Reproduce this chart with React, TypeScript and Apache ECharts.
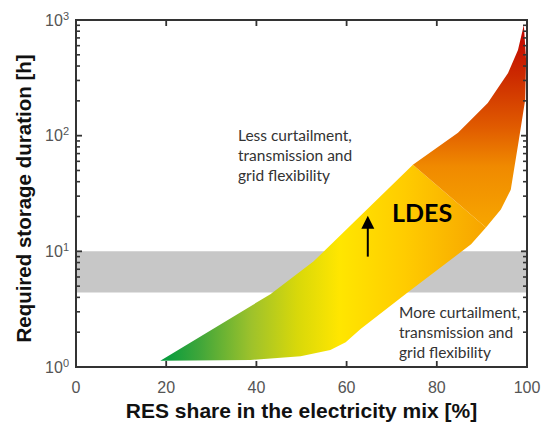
import React, { useEffect, useRef } from "react";
import * as echarts from "echarts";

// Axis ticks
const xInnerTicks = [20, 40, 60, 80];
const yMajorInner = [10, 100];
const yMinorTicks = [2, 3, 4, 5, 6, 7, 8, 9, 20, 30, 40, 50, 60, 70, 80, 90, 200, 300, 400, 500, 600, 700, 800, 900];
const xRange = [0, 100];
const yRange = [1, 1000];

// Lower (green -> yellow -> orange) part of the LDES region: [RES share %, hours]
const lowerX = [18.7, 43.1, 52.7, 74.7, 90.9, 87.6, 73.6, 63.1, 59.8, 56.4, 49.8, 38.7];
const lowerY = [1.13, 4.26, 8.2, 56, 16.1, 11.5, 4.43, 2.13, 1.64, 1.4, 1.24, 1.15];

// Upper (orange -> red) part of the LDES region
const upperX = [74.7, 84.7, 91.3, 95.8, 98.0, 99.3, 99.8, 99.6, 98.2, 96.4, 94.2, 90.9];
const upperY = [56, 106, 192, 349, 551, 906, 452, 204, 92, 34, 23, 16.1];

// Grey band of typical storage duration
const bandRange = [4.4, 10];

// Arrow
const arrowX = [64.7, 64.7];
const arrowY = [9.0, 20.3];

export default function App() {
  const ref = useRef<HTMLDivElement>(null);

  useEffect(() => {
    document.body.style.margin = "0";
    const chart = echarts.init(ref.current!, null, { renderer: "svg" });

    const polyRender = (xs: number[], ys: number[], fill: any) => (params: any, api: any) => {
      const pts = xs.map((x, i) => api.coord([x, ys[i]]));
      return { type: "polygon", shape: { points: pts }, style: { fill } };
    };

    const lowerFill = new echarts.graphic.LinearGradient(0, 0, 1, 0, [
      { offset: 0, color: "#009B3E" },
      { offset: 0.12, color: "#3FA63A" },
      { offset: 0.28, color: "#9EC22B" },
      { offset: 0.42, color: "#D8D80A" },
      { offset: 0.55, color: "#FFE600" },
      { offset: 0.75, color: "#FFCC00" },
      { offset: 1, color: "#F7A400" },
    ]);
    const upperFill = new echarts.graphic.LinearGradient(0, 0, 0, 1, [
      { offset: 0, color: "#C00000" },
      { offset: 0.25, color: "#CC2A00" },
      { offset: 0.5, color: "#E05A00" },
      { offset: 0.7, color: "#F08A00" },
      { offset: 1, color: "#F7A600" },
    ]);

    const frameColor = "#333333";

    // Frame and ticks drawn as filled rectangles through the axes' scales
    const frameRender = (params: any, api: any) => {
      const bl = api.coord([xRange[0], yRange[0]]);
      const tr = api.coord([xRange[1], yRange[1]]);
      const t = 2;
      const rects: any[] = [
        { x: bl[0] - t / 2, y: tr[1] - t / 2, width: tr[0] - bl[0] + t, height: t },
        { x: bl[0] - t / 2, y: bl[1] - t / 2, width: tr[0] - bl[0] + t, height: t },
        { x: bl[0] - t / 2, y: tr[1] - t / 2, width: t, height: bl[1] - tr[1] + t },
        { x: tr[0] - t / 2, y: tr[1] - t / 2, width: t, height: bl[1] - tr[1] + t },
      ];
      xInnerTicks.forEach((v) => {
        const p = api.coord([v, yRange[0]]);
        const q = api.coord([v, yRange[1]]);
        rects.push({ x: p[0] - 0.9, y: p[1] - 6, width: 1.8, height: 6 });
        rects.push({ x: q[0] - 0.9, y: q[1], width: 1.8, height: 6 });
      });
      yMajorInner.forEach((v) => {
        const p = api.coord([xRange[0], v]);
        const q = api.coord([xRange[1], v]);
        rects.push({ x: p[0], y: p[1] - 0.9, width: 6, height: 1.8 });
        rects.push({ x: q[0] - 6, y: q[1] - 0.9, width: 6, height: 1.8 });
      });
      yMinorTicks.forEach((v) => {
        const p = api.coord([xRange[0], v]);
        const q = api.coord([xRange[1], v]);
        rects.push({ x: p[0], y: p[1] - 0.8, width: 4, height: 1.6 });
        rects.push({ x: q[0] - 4, y: q[1] - 0.8, width: 4, height: 1.6 });
      });
      return {
        type: "group",
        children: rects.map((r) => ({ type: "rect", shape: r, style: { fill: frameColor } })),
      };
    };

    chart.setOption({
      animation: false,
      grid: { left: 76, right: 22, top: 20, bottom: 58 },
      xAxis: [
        {
          type: "value",
          min: xRange[0],
          max: xRange[1],
          interval: 20,
          name: "RES share in the electricity mix [%]",
          nameLocation: "middle",
          nameGap: 33,
          nameTextStyle: { fontFamily: "Liberation Sans", fontWeight: "bold", fontSize: 21, color: "#111" },
          axisLine: { show: false },
          axisTick: { show: false },
          axisLabel: { fontFamily: "Liberation Sans", fontSize: 16, color: "#555", margin: 12 },
          splitLine: { show: false },
        },
      ],
      yAxis: [
        {
          type: "log",
          logBase: 10,
          min: yRange[0],
          max: yRange[1],
          name: "Required storage duration [h]",
          nameLocation: "middle",
          nameGap: 39,
          nameTextStyle: {
            fontFamily: "Liberation Sans",
            fontWeight: "bold",
            fontSize: 20.5,
            color: "#111",
            padding: [0, 10, 0, 0],
          },
          axisLine: { show: false },
          axisTick: { show: false },
          axisLabel: {
            margin: 7,
            formatter: (v: number) => `{b|10}{s|${Math.round(Math.log10(v))}}`,
            rich: {
              b: { fontFamily: "Liberation Sans", fontSize: 16, color: "#555" },
              s: { fontFamily: "Liberation Sans", fontSize: 11, color: "#555", verticalAlign: "top", padding: [0, 0, 9, 0] },
            },
          },
          splitLine: { show: false },
        },
      ],
      series: [
        {
          type: "custom",
          z: 2,
          silent: true,
          data: [[0, 1]],
          renderItem: polyRender(lowerX, lowerY, lowerFill),
        },
        {
          type: "custom",
          z: 2,
          silent: true,
          data: [[0, 1]],
          renderItem: polyRender(upperX, upperY, upperFill),
        },
        {
          type: "line",
          z: 4,
          data: [],
          markArea: {
            silent: true,
            itemStyle: { color: "rgba(115,115,115,0.4)" },
            data: [[{ yAxis: bandRange[0] }, { yAxis: bandRange[1] }]],
          },
        },
        {
          type: "custom",
          z: 5,
          silent: true,
          data: [[arrowX[0], arrowY[0]]],
          renderItem: (params: any, api: any) => {
            const a = api.coord([arrowX[0], arrowY[0]]);
            const b = api.coord([arrowX[1], arrowY[1]]);
            const headH = 13;
            const headW = 6.5;
            return {
              type: "group",
              children: [
                { type: "line", shape: { x1: a[0], y1: a[1], x2: b[0], y2: b[1] + headH - 2 }, style: { stroke: "#000", lineWidth: 2 } },
                {
                  type: "polygon",
                  shape: { points: [[b[0], b[1]], [b[0] - headW, b[1] + headH], [b[0] + headW, b[1] + headH]] },
                  style: { fill: "#000" },
                },
              ],
            };
          },
        },
        {
          type: "custom",
          z: 5,
          silent: true,
          data: [[arrowX[0], arrowY[0]]],
          renderItem: frameRender,
        },
      ],
      graphic: [
        {
          type: "text",
          left: 238,
          top: 125,
          z: 10,
          style: {
            text: "Less curtailment,\ntransmission and\ngrid flexibility",
            font: "15.5px Lato",
            fill: "#333",
            lineHeight: 20,
          },
        },
        {
          type: "text",
          left: 399,
          top: 302,
          z: 10,
          style: {
            text: "More curtailment,\ntransmission and\ngrid flexibility",
            font: "15.5px Lato",
            fill: "#333",
            lineHeight: 20,
          },
        },
        {
          type: "text",
          left: 392,
          top: 199,
          z: 10,
          style: { text: "LDES", font: "bold 25px Lato", fill: "#000" },
        },
      ],
    });

    return () => chart.dispose();
  }, []);

  return <div ref={ref} style={{ width: 549, height: 426 }} />;
}
